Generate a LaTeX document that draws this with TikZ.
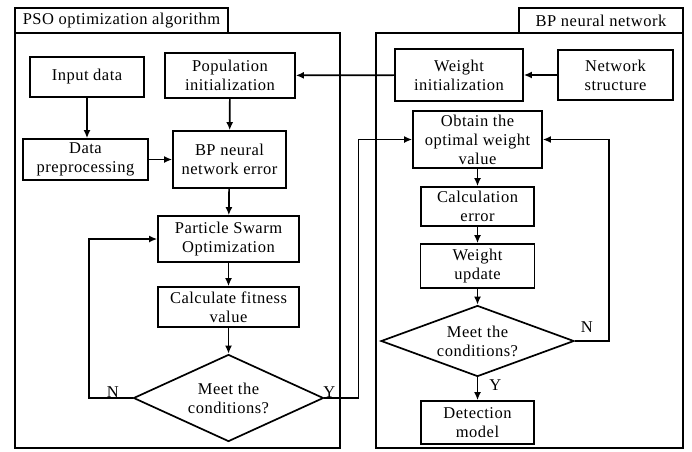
\documentclass[tikz,border=0pt]{standalone}
\usepackage{fontspec}
\setmainfont[LetterSpace=3]{Liberation Serif}
\usetikzlibrary{arrows.meta,shapes.geometric}

\tikzset{
  box/.style={draw,line width=1.7pt,align=center,inner sep=0pt,
    font=\fontsize{16.5}{19}\selectfont},
  cond/.style={draw,diamond,line width=1.7pt,align=center,inner sep=0pt,
    aspect=2.6,font=\fontsize{16.5}{19}\selectfont},
  flow/.style={->,line width=1.7pt},
  lbl/.style={inner sep=0pt,font=\fontsize{16.5}{19}\selectfont},
}

\begin{document}
\begin{tikzpicture}[>={Latex[length=8pt,width=7pt]},x=1pt,y=-1pt]
  \useasboundingbox (0,0) rectangle (692,451);
  % ---- panels ----
  \draw[line width=1.7pt] (15,33) rectangle (340,448);
  \node[box,minimum width=213pt,minimum height=25pt] (psotitle) at (121.5,20.5) {PSO optimization algorithm};
  \draw[line width=1.7pt] (376,33) rectangle (683,448);
  \node[box,minimum width=164pt,minimum height=25pt] (bptitle) at (601,20.5) {BP neural network};

  % ---- PSO side ----
  \node[box,minimum width=114pt,minimum height=40pt] (inp)   at (87,77)      {Input data};
  \node[box,minimum width=130pt,minimum height=45pt] (pop)   at (230,75.5)   {Population\\initialization};
  \node[box,minimum width=125pt,minimum height=41pt] (pre)   at (85.5,159.5) {Data\\preprocessing};
  \node[box,minimum width=113pt,minimum height=57pt] (bperr) at (229.5,159.5){BP neural\\network error};
  \node[box,minimum width=141pt,minimum height=46pt] (pso)   at (228.5,239)  {Particle Swarm\\Optimization};
  \node[box,minimum width=141pt,minimum height=40pt] (fit)   at (228.5,307)  {Calculate fitness\\value};
  \node[cond,minimum width=190pt,minimum height=87pt] (cond1) at (228.5,398) {Meet the\\conditions?};

  % ---- BP side ----
  \node[box,minimum width=128pt,minimum height=52pt] (winit) at (459,75)     {Weight\\initialization};
  \node[box,minimum width=115pt,minimum height=50pt] (nets)  at (615.5,75)   {Network\\structure};
  \node[box,minimum width=129pt,minimum height=57pt] (opt)   at (477.5,139.5){Obtain the\\optimal weight\\value};
  \node[box,minimum width=113pt,minimum height=39pt] (calc)  at (477.5,206.5){Calculation\\error};
  \node[box,minimum width=114pt,minimum height=44pt] (wup)   at (477.5,266)  {Weight\\update};
  \node[cond,minimum width=193pt,minimum height=71pt] (cond2) at (477.5,341)  {Meet the\\conditions?};
  \node[box,minimum width=113pt,minimum height=43pt] (det)   at (477.5,422.5){Detection\\model};

  % ---- connectors ----
  \draw[flow] (inp.south) -- (inp.south |- pre.north);
  \draw[flow] (pre) -- (bperr);
  \draw[flow] (pop) -- (bperr);
  \draw[flow] (bperr) -- (pso);
  \draw[flow] (pso) -- (fit);
  \draw[flow] (fit) -- (cond1);
  \draw[flow] (cond1.west) -- node[lbl,above,pos=0.45]{N} ++(-44,0) |- (pso.west);
  \draw[flow] (cond1.east) -- node[lbl,above,pos=0.15]{Y} ++(34,0) |- (opt.west);
  \draw[flow] (nets) -- (winit);
  \draw[flow] (winit) -- (pop);
  \draw[flow] (opt) -- (calc);
  \draw[flow] (calc) -- (wup);
  \draw[flow] (wup) -- (cond2);
  \draw[flow] (cond2.east) -- node[lbl,above=8pt,pos=0.35]{N} ++(34,0) |- (opt.east);
  \draw[flow] (cond2) -- node[lbl,right=11pt,pos=0.35]{Y} (det);
\end{tikzpicture}
\end{document}
